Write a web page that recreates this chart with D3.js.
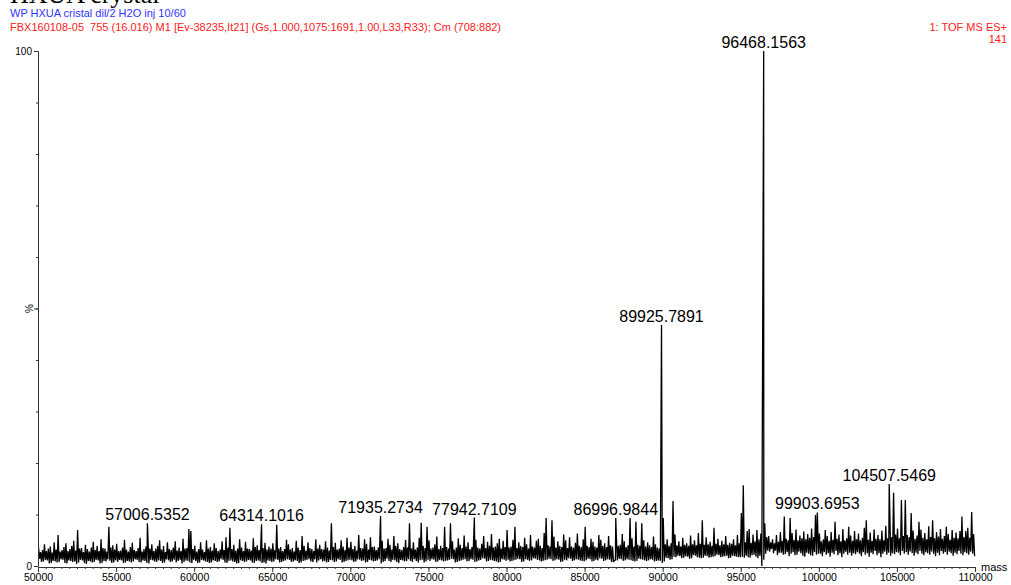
<!DOCTYPE html>
<html>
<head>
<meta charset="utf-8">
<script src="https://cdn.jsdelivr.net/npm/d3@7"></script>
<style>
  body { margin: 0; background: #fff; }
  svg { display: block; }
  text { font-family: Arial, "Liberation Sans", sans-serif; }
</style>
</head>
<body>
<svg id="chart" width="1011" height="585"></svg>
<script>
// Deconvoluted TOF MS ES+ spectrum, 50000–110000 Da.
// The trace is stored as per-bin maxima/minima (% relative intensity), 125 Da bins.
const massStart = 50000;
const massEnd = 110000;
const binWidth = 125;

const binHigh = [
  // 50000–55000
  3.6, 2.7, 3.1, 4.2, 2.9, 3.4, 3.8, 2.6, 4.6, 3.2, 6.0, 2.8, 3.1, 3.7, 4.4, 2.9, 3.3, 3.9, 4.9, 3.0,
  7.0, 3.4, 3.5, 2.7, 4.1, 3.3, 2.8, 3.6, 4.7, 3.1, 3.9, 2.9, 5.2, 3.5, 3.4, 2.8, 7.6, 3.6, 4.0, 3.2,
  // 55000–60000
  4.3, 2.9, 3.0, 3.6, 5.1, 3.2, 2.8, 3.7, 4.5, 3.1, 2.9, 3.5, 5.5, 2.8, 3.3, 3.8, 8.3, 3.4, 4.2, 2.9,
  3.4, 3.9, 5.0, 3.2, 3.9, 2.7, 4.6, 3.3, 3.1, 3.6, 4.8, 3.0, 3.6, 2.9, 5.3, 3.4, 3.5, 7.2, 6.8, 3.3,
  // 60000–65000
  3.9, 2.8, 3.3, 4.6, 3.2, 2.7, 5.0, 3.4, 3.7, 3.0, 4.4, 3.5, 2.9, 3.2, 4.8, 3.1, 5.6, 3.6, 7.4, 3.3,
  4.1, 3.0, 3.4, 5.2, 3.6, 2.9, 4.7, 3.4, 3.3, 3.0, 5.4, 3.7, 4.0, 3.1, 8.1, 3.5, 4.5, 3.2, 3.8, 3.4,
  // 65000–70000
  4.4, 3.1, 8.0, 3.4, 3.7, 2.9, 3.3, 5.1, 4.2, 3.2, 3.5, 2.8, 4.9, 3.6, 3.1, 5.8, 3.9, 3.0, 4.6, 3.5,
  3.3, 2.9, 5.2, 3.4, 4.1, 3.3, 3.2, 4.8, 3.6, 3.0, 8.3, 3.7, 4.5, 3.2, 3.4, 5.0, 3.8, 3.1, 5.5, 3.6,
  // 70000–75000
  4.7, 3.3, 3.9, 3.0, 6.0, 3.5, 3.4, 5.2, 4.3, 3.2, 5.6, 3.7, 3.8, 3.1, 3.6, 9.7, 4.9, 3.4, 3.5, 5.3,
  4.1, 3.2, 5.8, 3.9, 4.4, 3.3, 3.1, 3.7, 5.1, 3.6, 8.3, 3.4, 4.6, 3.2, 3.6, 5.5, 8.4, 3.9, 3.5, 7.6,
  // 75000–80000
  5.0, 3.4, 3.6, 4.2, 5.7, 3.3, 3.9, 3.5, 7.6, 3.7, 3.4, 8.3, 4.8, 3.2, 3.6, 5.4, 4.1, 3.5, 5.9, 3.8,
  4.6, 3.3, 3.7, 9.4, 5.1, 3.6, 3.4, 4.3, 5.8, 3.5, 4.7, 3.9, 6.2, 3.6, 3.8, 4.4, 5.3, 3.4, 4.9, 3.7,
  // 80000–85000
  7.0, 3.6, 3.8, 5.1, 7.6, 3.5, 4.6, 3.9, 3.7, 5.5, 4.2, 3.4, 6.0, 3.8, 3.6, 4.9, 5.3, 3.9, 3.5, 6.4,
  9.3, 4.0, 3.8, 8.9, 5.7, 3.6, 4.8, 3.9, 3.7, 6.1, 5.0, 3.5, 5.6, 3.8, 3.6, 4.5, 6.3, 3.9, 3.7, 5.2,
  // 85000–90000
  7.6, 3.9, 3.7, 5.3, 4.7, 3.8, 3.6, 6.0, 5.1, 3.9, 4.4, 3.7, 5.8, 4.0, 3.8, 4.9, 5.5, 3.9, 4.1, 6.2,
  4.8, 3.7, 4.0, 9.3, 5.4, 3.8, 8.6, 4.1, 3.9, 8.3, 5.0, 3.8, 4.6, 4.0, 3.7, 5.7, 4.2, 3.6, 3.4, 46.8,
  // 90000–95000
  9.3, 4.2, 5.2, 3.9, 4.4, 12.6, 6.1, 4.0, 4.8, 3.8, 5.5, 4.1, 4.4, 3.9, 5.9, 4.2, 5.0, 4.0, 6.4, 4.3,
  8.9, 4.1, 5.6, 4.2, 4.7, 3.9, 7.4, 4.3, 5.3, 4.0, 4.9, 4.2, 5.8, 4.1, 4.5, 4.3, 5.2, 4.0, 6.0, 4.4,
  // 95000–100000
  10.3, 15.7, 4.6, 6.8, 7.2, 4.5, 6.1, 4.8, 7.0, 5.2, 6.3, 100, 8.3, 5.6, 5.8, 4.6, 5.2, 4.4, 6.0, 4.7,
  6.6, 4.9, 9.6, 5.3, 5.0, 9.3, 6.4, 5.1, 7.1, 5.0, 5.9, 5.4, 6.7, 5.2, 6.2, 5.5, 7.3, 5.6, 9.9, 10.4,
  // 100000–105000
  6.3, 4.8, 5.2, 7.0, 5.8, 4.9, 6.6, 5.1, 8.6, 5.3, 6.1, 4.8, 7.2, 5.0, 5.4, 7.6, 5.9, 4.9, 6.8, 5.2,
  6.3, 5.0, 5.5, 7.4, 8.9, 5.1, 6.5, 4.9, 7.1, 5.3, 6.0, 5.2, 6.9, 5.0, 7.8, 5.4, 15.9, 5.6, 14.2, 6.1,
  // 105000–110000
  7.3, 5.4, 12.8, 5.8, 12.8, 6.0, 5.6, 10.3, 6.9, 5.3, 5.9, 8.6, 7.1, 5.5, 6.4, 5.2, 7.7, 5.6, 8.9, 5.4,
  6.6, 5.7, 7.2, 5.3, 5.8, 7.6, 6.2, 5.1, 7.0, 5.5, 6.5, 5.4, 6.8, 9.6, 5.6, 6.8, 7.4, 5.5, 10.5, 6.2
];

const binLow = [
  // 50000–55000
  1.4, 0.8, 0.9, 1.2, 1.1, 0.5, 0.6, 1.0, 0.9, 0.7, 0.8, 1.3, 1.2, 0.6, 0.5, 1.1, 1.0, 0.8, 0.9, 0.4,
  0.7, 1.2, 1.1, 0.6, 0.4, 1.0, 0.9, 0.7, 0.8, 1.2, 1.1, 0.5, 0.6, 1.0, 0.9, 1.3, 1.0, 0.6, 0.7, 1.1,
  // 55000–60000
  0.8, 1.2, 1.1, 0.6, 0.7, 1.0, 0.9, 0.7, 0.9, 1.3, 1.2, 0.8, 0.7, 1.1, 1.0, 0.6, 0.5, 1.2, 1.1, 0.9,
  0.8, 1.1, 1.0, 0.6, 0.7, 1.3, 1.1, 0.8, 0.9, 1.2, 0.7, 1.0, 1.2, 0.5, 0.8, 1.1, 1.0, 0.7, 0.6, 1.2,
  // 60000–65000
  1.0, 0.6, 0.7, 1.2, 1.1, 0.9, 0.8, 0.6, 0.7, 1.1, 1.0, 0.8, 0.9, 1.3, 1.2, 0.7, 0.6, 1.0, 1.1, 0.9,
  0.8, 0.5, 0.6, 1.1, 1.0, 0.8, 0.9, 1.2, 1.1, 0.7, 0.6, 1.0, 1.1, 0.9, 0.6, 0.7, 0.5, 1.1, 1.0, 0.8,
  // 65000–70000
  0.9, 1.3, 1.2, 0.7, 0.8, 1.0, 1.1, 1.3, 1.2, 0.8, 0.9, 1.1, 1.0, 0.6, 0.7, 1.0, 1.1, 1.2, 1.3, 0.9,
  0.8, 1.3, 0.7, 1.1, 1.3, 0.9, 1.0, 0.7, 0.8, 1.2, 1.1, 0.8, 0.9, 1.3, 1.2, 0.7, 0.8, 1.0, 1.1, 1.2,
  // 70000–75000
  1.1, 0.8, 0.9, 1.3, 1.2, 1.0, 1.1, 0.7, 0.8, 1.2, 1.1, 0.9, 1.0, 1.1, 1.3, 0.5, 0.8, 1.0, 1.4, 1.0,
  0.8, 1.2, 1.1, 0.8, 0.6, 1.2, 1.1, 0.9, 1.0, 1.3, 1.0, 0.8, 1.3, 1.0, 0.7, 1.1, 1.2, 0.7, 0.9, 1.2,
  // 75000–80000
  1.0, 1.3, 1.2, 0.8, 0.9, 1.2, 1.1, 0.9, 1.0, 1.1, 1.2, 1.4, 1.3, 0.7, 0.8, 1.0, 1.1, 1.2, 1.3, 0.9,
  1.0, 1.3, 1.2, 0.8, 0.9, 1.1, 1.2, 1.5, 1.4, 0.9, 1.0, 1.2, 1.1, 1.0, 0.9, 0.7, 0.8, 1.3, 1.2, 1.0,
  // 80000–85000
  1.2, 0.9, 1.0, 1.1, 1.2, 1.4, 1.3, 0.8, 0.9, 1.3, 1.2, 1.0, 1.1, 1.5, 1.4, 1.2, 1.1, 0.9, 1.0, 1.1,
  1.2, 1.4, 1.3, 1.0, 1.1, 1.3, 1.2, 0.8, 0.9, 1.2, 1.1, 1.5, 1.4, 1.0, 1.1, 1.3, 1.2, 1.1, 1.0, 0.9,
  // 85000–90000
  1.1, 1.4, 1.3, 0.9, 1.0, 1.2, 1.1, 1.5, 1.4, 1.0, 1.1, 1.3, 1.2, 0.8, 0.9, 1.2, 1.1, 1.4, 1.3, 1.0,
  1.1, 1.3, 1.2, 1.1, 1.0, 0.9, 1.0, 1.4, 1.3, 1.2, 1.1, 1.0, 1.1, 1.3, 1.2, 0.9, 1.0, 1.1, 1.0, 0.6,
  // 90000–95000
  0.9, 1.6, 1.5, 1.2, 1.3, 1.8, 1.7, 2.0, 1.9, 1.5, 1.6, 1.9, 1.8, 1.4, 1.5, 2.1, 2.0, 1.7, 1.6, 1.5,
  1.6, 2.0, 1.9, 1.6, 1.7, 1.8, 1.9, 2.2, 2.1, 1.7, 1.8, 1.9, 2.0, 1.5, 1.6, 2.0, 1.9, 1.8, 1.7, 1.7,
  // 95000–100000
  1.8, 1.6, 2.0, 1.7, 1.6, 2.1, 2.2, 1.8, 1.5, 2.0, 0.0, 1.2, 2.4, 3.0, 2.8, 3.3, 2.5, 3.0, 2.1, 2.6,
  2.6, 2.2, 2.3, 2.7, 1.9, 2.4, 2.7, 2.1, 2.2, 2.8, 2.5, 2.0, 1.8, 2.6, 2.4, 2.1, 2.0, 2.7, 2.2, 2.4,
  // 100000–105000
  2.4, 1.9, 2.7, 2.2, 2.5, 1.8, 2.6, 2.3, 2.9, 2.1, 2.5, 1.7, 2.4, 2.8, 2.2, 2.6, 2.0, 2.5, 2.3, 2.7,
  2.4, 1.9, 2.7, 2.2, 2.5, 1.8, 2.6, 2.3, 2.9, 2.1, 2.5, 1.7, 2.4, 2.8, 2.2, 2.6, 2.0, 2.5, 2.3, 2.7,
  // 105000–110000
  2.6, 2.1, 2.9, 2.4, 2.7, 2.2, 2.8, 2.5, 2.0, 2.6, 2.3, 2.9, 2.4, 2.1, 2.7, 2.5, 2.2, 2.8, 2.4, 1.9,
  2.6, 2.1, 2.9, 2.4, 2.7, 2.2, 2.8, 2.5, 2.0, 2.6, 2.3, 2.9, 2.4, 2.1, 2.7, 2.5, 2.2, 2.8, 2.4, 1.9
];

// Annotated peaks: centroid mass and relative intensity (%)
const peakMasses  = [57006.5352, 64314.1016, 71935.2734, 77942.7109, 86996.9844, 89925.7891, 96468.1563, 99903.6953, 104507.5469];
const peakHeights = [8.3, 8.1, 9.7, 9.4, 9.3, 46.8, 100, 10.4, 15.9];

const xMajorTicks = d3.range(50000, 110001, 5000);
const xMinorTicks = d3.range(50000, 110001, 500);
const yTicks = d3.range(0, 101, 10);

const headerTitle = "HXUA crystal";
const sampleLine = "WP HXUA cristal dil/2 H2O inj 10/60";
const scanLine = "FBX160108-05  755 (16.016) M1 [Ev-38235,It21] (Gs,1.000,1075:1691,1.00,L33,R33); Cm (708:882)";
const functionLine = "1: TOF MS ES+";
const maxCountLine = "141";

const svg = d3.select("#chart");
const x = d3.scaleLinear().domain([massStart, massEnd]).range([38, 975]);
const y = d3.scaleLinear().domain([0, 100]).range([566, 51]);

// --- header ---
svg.append("text").attr("x", 10).attr("y", 2.5)
  .style("font-family", "'Liberation Serif', 'Times New Roman', serif")
  .style("font-size", "26px").attr("fill", "#000").text(headerTitle);
svg.append("text").attr("x", 10).attr("y", 17)
  .style("font-size", "11px").attr("fill", "#3333ff").text(sampleLine);
svg.append("text").attr("x", 10).attr("y", 30.5)
  .style("font-size", "11px").attr("fill", "#ff2020")
  .attr("xml:space", "preserve").text(scanLine);
svg.append("text").attr("x", 1007).attr("y", 30.5).attr("text-anchor", "end")
  .style("font-size", "11px").attr("fill", "#ff2020").text(functionLine);
svg.append("text").attr("x", 1007).attr("y", 43).attr("text-anchor", "end")
  .style("font-size", "11px").attr("fill", "#ff2020").text(maxCountLine);

// --- spectrum trace ---
const pts = [];
binHigh.forEach((h, i) => {
  const m0 = massStart + i * binWidth;
  pts.push([m0 + 0.3 * binWidth, h]);
  pts.push([m0 + 0.8 * binWidth, binLow[i]]);
});
// annotated maxima sit at their reported centroid mass
peakMasses.forEach((m, k) => {
  const i = Math.floor((m - massStart) / binWidth);
  pts[2 * i] = [m, peakHeights[k]];
});
pts.sort((a, b) => a[0] - b[0]);

svg.append("path")
  .datum(pts)
  .attr("fill", "none")
  .attr("stroke", "#000")
  .attr("stroke-width", 1.3)
  .attr("stroke-linejoin", "miter")
  .attr("d", d3.line().x(d => x(d[0])).y(d => y(d[1])));

// --- axes ---
const axisColor = "#333";
const gx = svg.append("g").attr("transform", "translate(0,567)");
gx.call(d3.axisBottom(x).tickValues(xMinorTicks).tickSize(2).tickSizeOuter(0).tickFormat(""));
gx.append("g").call(d3.axisBottom(x).tickValues(xMajorTicks).tickSize(5).tickSizeOuter(0)
  .tickFormat(d3.format("d")).tickPadding(2));
gx.selectAll("path.domain").attr("stroke", axisColor);
gx.selectAll(".tick line").attr("stroke", axisColor);
gx.selectAll("text").style("font-size", "10.5px").style("font-family", "Arial, 'Liberation Sans', sans-serif").attr("fill", "#000");

svg.append("text").attr("x", 981).attr("y", 571)
  .style("font-size", "11px").attr("fill", "#000").text("mass");

const gy = svg.append("g").attr("transform", "translate(38,0)");
gy.call(d3.axisLeft(y).tickValues(yTicks).tickSize(2).tickSizeOuter(0).tickFormat(""));
gy.append("g").call(d3.axisLeft(y).tickValues([0, 50, 100]).tickSize(4).tickSizeOuter(0)
  .tickFormat(d => (d === 50 ? "" : d)).tickPadding(2));
gy.selectAll("path.domain").attr("stroke", axisColor);
gy.selectAll(".tick line").attr("stroke", axisColor);
gy.selectAll("text").style("font-size", "10px").style("font-family", "Arial, 'Liberation Sans', sans-serif").attr("fill", "#000");

svg.append("text")
  .attr("transform", `translate(33,${y(50)}) rotate(-90)`)
  .attr("text-anchor", "middle")
  .style("font-size", "10px").attr("fill", "#000").text("%");

// --- peak annotations ---
svg.append("g").selectAll("text")
  .data(peakMasses.map((m, k) => ({ m, h: peakHeights[k] })))
  .join("text")
  .attr("x", d => x(d.m))
  .attr("y", d => y(d.h) - 3)
  .attr("text-anchor", "middle")
  .style("font-size", "16px")
  .attr("fill", "#000")
  .text(d => d.m.toFixed(4));
</script>
</body>
</html>
